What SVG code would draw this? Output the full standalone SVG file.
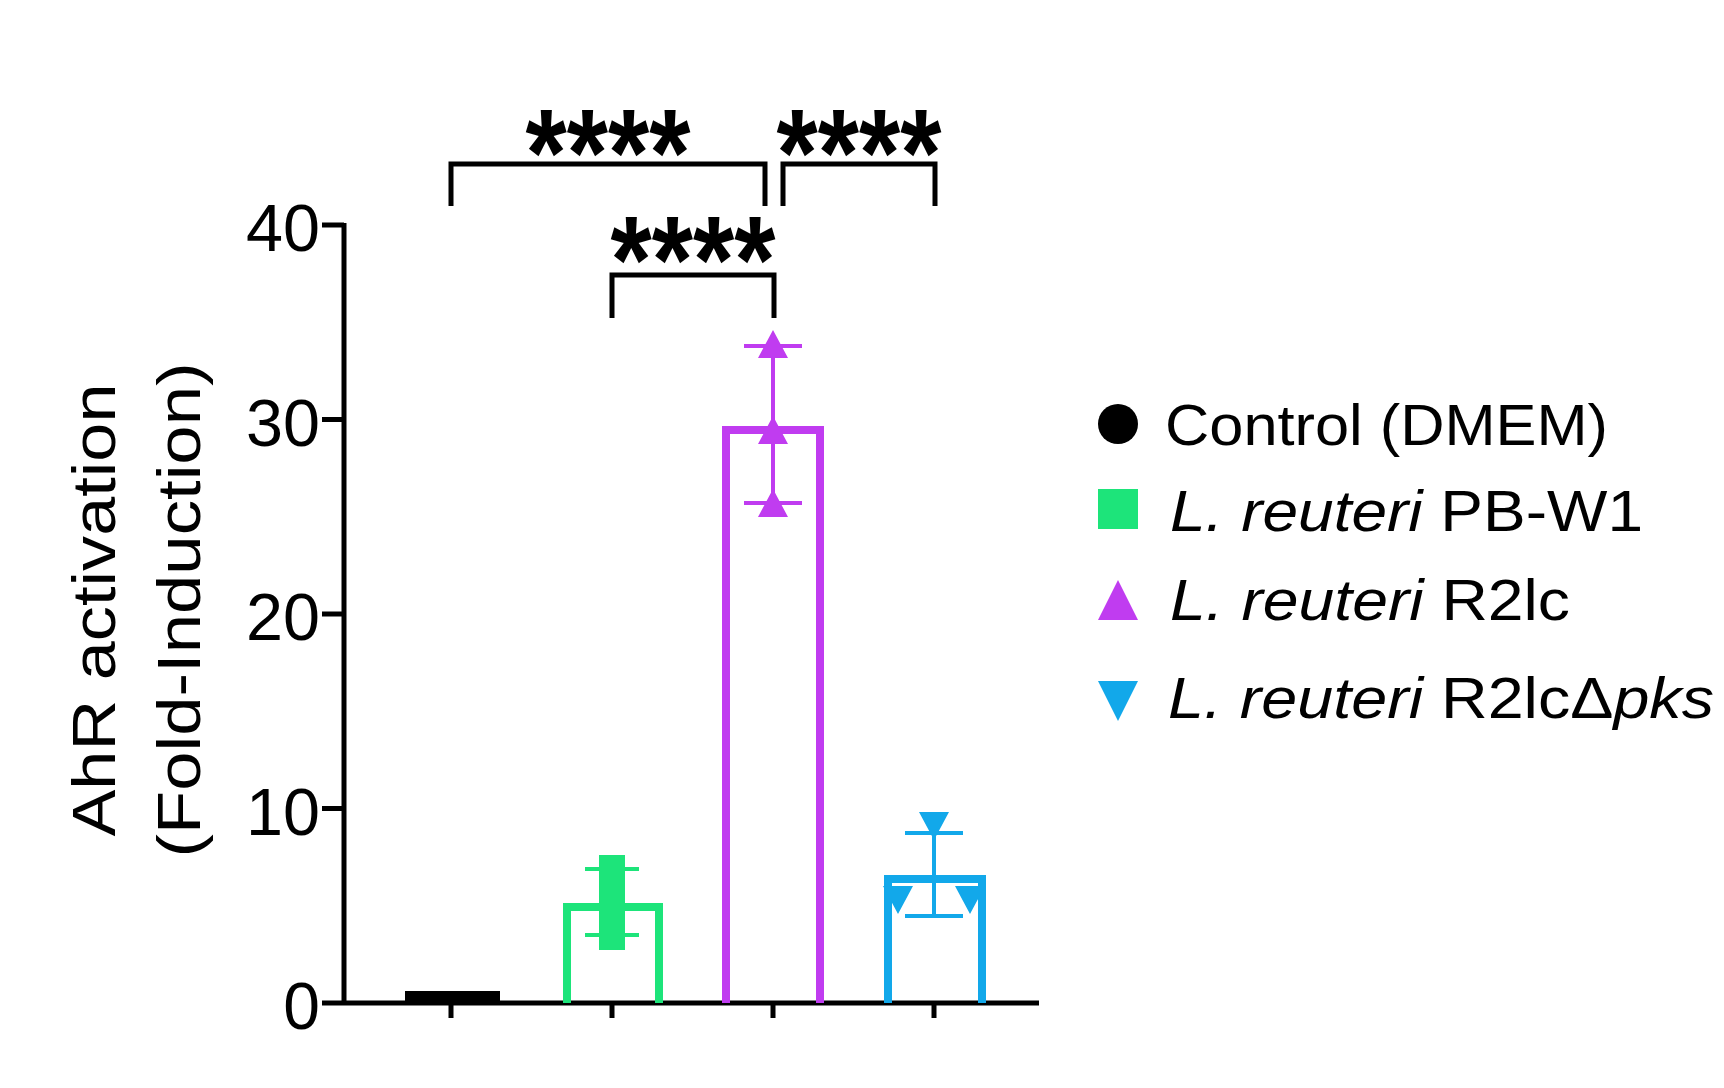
<svg xmlns="http://www.w3.org/2000/svg" width="1724" height="1088" viewBox="0 0 1724 1088">
<style>
.ax{stroke:#000;stroke-width:5;fill:none}
.br{stroke:#000;stroke-width:5;fill:none}
.t{font-family:"Liberation Sans",Arial,sans-serif;fill:#000}
.st{font-family:"Liberation Sans",Arial,sans-serif;font-weight:bold;font-size:125px;fill:#000}
.tl{font-size:66px;text-anchor:end}
.lg{font-size:58px}
</style>
<rect width="1724" height="1088" fill="#fff"/>
<g id="axes">
<path class="ax" d="M344,223 V1003 M322,225 H344 M322,419.5 H344 M322,614 H344 M322,808.5 H344 M322,1003 H344 M344,1003 H1039 M451,1003 V1018 M612,1003 V1018 M773,1003 V1018 M934,1003 V1018"/>
<g class="t tl">
<text x="320" y="251" textLength="74" lengthAdjust="spacingAndGlyphs">40</text>
<text x="320" y="446" textLength="74" lengthAdjust="spacingAndGlyphs">30</text>
<text x="320" y="640" textLength="74" lengthAdjust="spacingAndGlyphs">20</text>
<text x="320" y="835" textLength="74" lengthAdjust="spacingAndGlyphs">10</text>
<text x="320" y="1029">0</text>
</g>
<text class="t" font-size="62" text-anchor="middle" transform="translate(115,610) rotate(-90)" textLength="453" lengthAdjust="spacingAndGlyphs">AhR activation</text>
<text class="t" font-size="62" text-anchor="middle" transform="translate(200,610) rotate(-90)" textLength="495" lengthAdjust="spacingAndGlyphs">(Fold-Induction)</text>
</g>
<g id="bar-control"><rect x="405" y="991" width="95" height="12" fill="#000"/></g>
<g id="bar-pbw1">
<path d="M567,1003 V907 H659 V1003" fill="none" stroke="#1de47a" stroke-width="8"/>
<path d="M612,869 V935 M585,869 H639 M585,935 H639" stroke="#1de47a" stroke-width="4"/>
<rect x="599" y="855" width="26" height="26" fill="#1de47a"/>
<rect x="599" y="874" width="26" height="26" fill="#1de47a"/>
<rect x="599" y="899" width="26" height="26" fill="#1de47a"/>
<rect x="599" y="924" width="26" height="26" fill="#1de47a"/>
</g>
<g id="bar-r2lc">
<path d="M726,1003 V430 H820 V1003" fill="none" stroke="#c03cf0" stroke-width="8"/>
<path d="M773,346 V503 M744,346 H802 M744,503 H802" stroke="#c03cf0" stroke-width="4"/>
<path d="M773,330 L788,358 H758 Z M773,416 L788,444 H758 Z M773,489 L788,517 H758 Z" fill="#c03cf0"/>
</g>
<g id="bar-r2lcdpks">
<path d="M888,1003 V879 H982 V1003" fill="none" stroke="#12a8ea" stroke-width="8"/>
<path d="M934,833 V916 M905,833 H963 M905,916 H963" stroke="#12a8ea" stroke-width="4"/>
<path d="M934,840 L949,812 H919 Z M898,914 L913,886 H883 Z M970,914 L985,886 H955 Z" fill="#12a8ea"/>
</g>
<g id="connectors">
<path class="br" d="M451,206 V164 H765 V206"/>
<path class="br" d="M783,206 V164 H935 V206"/>
<path class="br" d="M612,318 V275 H774 V318"/>
</g>
<g id="stars">
<text class="st" x="608" y="196" text-anchor="middle" textLength="165" lengthAdjust="spacingAndGlyphs">****</text>
<text class="st" x="859" y="196" text-anchor="middle" textLength="165" lengthAdjust="spacingAndGlyphs">****</text>
<text class="st" x="693" y="303" text-anchor="middle" textLength="165" lengthAdjust="spacingAndGlyphs">****</text>
</g>
<g id="legend" class="t lg">
<circle cx="1118" cy="424" r="20" fill="#000"/>
<text x="1165" y="445" textLength="443" lengthAdjust="spacingAndGlyphs">Control (DMEM)</text>
<rect x="1098" y="489" width="40" height="40" fill="#1de47a"/>
<text x="1170" y="531" textLength="473" lengthAdjust="spacingAndGlyphs"><tspan font-style="italic">L. reuteri</tspan> PB-W1</text>
<path d="M1118,580 L1138,620 H1098 Z" fill="#c03cf0"/>
<text x="1170" y="620" textLength="400" lengthAdjust="spacingAndGlyphs"><tspan font-style="italic">L. reuteri</tspan> R2lc</text>
<path d="M1118,721 L1138,681 H1098 Z" fill="#12a8ea"/>
<text x="1168" y="718" textLength="546" lengthAdjust="spacingAndGlyphs"><tspan font-style="italic">L. reuteri</tspan> R2lcΔ<tspan font-style="italic">pks</tspan></text>
</g>
</svg>
